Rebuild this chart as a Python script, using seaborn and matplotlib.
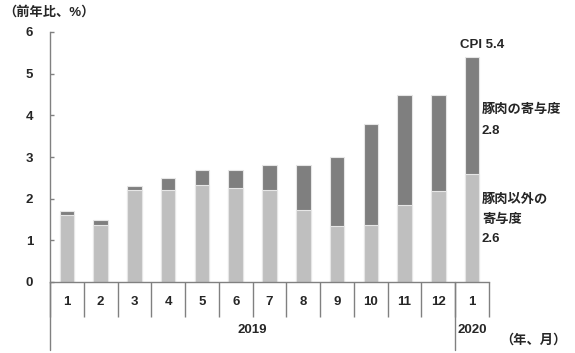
import matplotlib
matplotlib.use("Agg")
import matplotlib.pyplot as plt
import matplotlib.transforms as mtransforms
import seaborn as sns
import pandas as pd

months = ["1", "2", "3", "4", "5", "6", "7", "8", "9", "10", "11", "12", "1"]
years = ["2019"] * 12 + ["2020"]
cpi_total = [1.7, 1.5, 2.3, 2.5, 2.7, 2.7, 2.8, 2.8, 3.0, 3.8, 4.5, 4.5, 5.4]
non_pork = [1.61, 1.37, 2.2, 2.2, 2.34, 2.26, 2.22, 1.74, 1.35, 1.38, 1.86, 2.18, 2.6]
pork = [round(t - n, 2) for t, n in zip(cpi_total, non_pork)]
pork[-1] = 2.8

sns.set_theme(style="white")
plt.rcParams["font.family"] = ["Liberation Sans", "Noto Sans CJK JP", "DejaVu Sans"]
plt.rcParams["font.weight"] = "bold"

df = pd.DataFrame({
    "key": [f"{y}-{m}-{i}" for i, (y, m) in enumerate(zip(years, months))],
    "total": cpi_total,
    "nonpork": non_pork,
})

fig = plt.figure(figsize=(5.75, 3.53), dpi=100)
ax = fig.add_axes([50 / 575, 1 - 282 / 353, 439 / 575, 250 / 353])

dark = "#7f7f7f"
light = "#bfbfbf"
sns.barplot(data=df, x="key", y="total", color=dark, ax=ax, width=0.43,
            edgecolor="#e6e6e6", linewidth=0.8, saturation=1)
sns.barplot(data=df, x="key", y="nonpork", color=light, ax=ax, width=0.43,
            edgecolor="#e6e6e6", linewidth=0.8, saturation=1)

ax.set_xlim(-0.5, len(months) - 0.5)
ax.set_ylim(0, 6)
ax.set_yticks(range(0, 7))
ax.set_xticks(range(len(months)))
ax.set_xticklabels(months)
ax.set_xlabel("")
ax.set_ylabel("")

for s in ["top", "right"]:
    ax.spines[s].set_visible(False)
for s in ["left", "bottom"]:
    ax.spines[s].set_color("#808080")
    ax.spines[s].set_linewidth(1)

ax.tick_params(axis="y", direction="in", length=3, width=1, color="#808080",
               pad=12, labelsize=9.5, left=True)
ax.tick_params(axis="x", which="major", length=0, pad=10, labelsize=9.5)
# category separators as minor ticks
ax.set_xticks([i - 0.5 for i in range(len(months) + 1)], minor=True)
ax.tick_params(axis="x", which="minor", direction="out", length=25, width=1,
               color="#808080", bottom=True)

trans = mtransforms.blended_transform_factory(ax.transData, ax.transAxes)
# tall year separators
n2019 = years.count("2019")
for xpos in [-0.5, n2019 - 0.5]:
    ax.plot([xpos, xpos], [0, -0.27], transform=trans, color="#808080",
            lw=1, clip_on=False)

ax.text((n2019 - 1) / 2, -0.192, "2019", transform=trans, ha="center",
        va="center", fontsize=9.5)
ax.text(len(months) - 1, -0.192, "2020", transform=trans, ha="center",
        va="center", fontsize=9.5)
ax.text(1.025, -0.232, "（年、月）", transform=ax.transAxes, ha="left",
        va="center", fontsize=9.5)
fig.text(3 / 575, 1 - 12 / 353, "（前年比、%）", ha="left", va="center",
         fontsize=9.5)

last = len(months) - 1
ax.text(last - 0.35, 5.69, f"CPI {cpi_total[-1]}", ha="left", va="center",
        fontsize=9.5)
ax.text(last + 0.29, 4.13, "豚肉の寄与度", ha="left", va="center", fontsize=9.5)
ax.text(last + 0.29, 3.62, f"{pork[-1]}", ha="left", va="center", fontsize=9.5)
ax.text(last + 0.29, 1.97, "豚肉以外の", ha="left", va="center", fontsize=9.5)
ax.text(last + 0.29, 1.49, "寄与度", ha="left", va="center", fontsize=9.5)
ax.text(last + 0.29, 1.03, f"{non_pork[-1]}", ha="left", va="center", fontsize=9.5)

fig.savefig("out.png", dpi=100)
